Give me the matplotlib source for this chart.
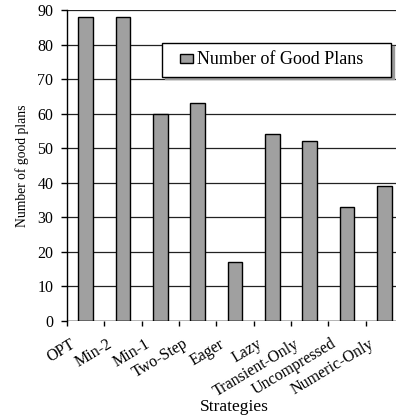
import matplotlib
matplotlib.use("Agg")
import matplotlib.pyplot as plt
from matplotlib.patches import Rectangle
from matplotlib.container import BarContainer
from matplotlib.legend_handler import HandlerPatch, update_from_first_child
import numpy as np

strategies = ["OPT", "Min-2", "Min-1", "Two-Step", "Eager", "Lazy",
              "Transient-Only", "Uncompressed", "Numeric-Only"]
good_plans = [88, 88, 60, 63, 17, 54, 52, 33, 39]
y_ticks = [0, 10, 20, 30, 40, 50, 60, 70, 80, 90]

plt.rcParams["font.family"] = ["Liberation Serif", "DejaVu Serif"]

W, H = 396, 417
fig = plt.figure(figsize=(W / 100, H / 100), dpi=100)
# axes run slightly past the right edge of the canvas
ax = fig.add_axes([67 / W, 1 - 321 / H, 336 / W, 311 / H])

centers = np.arange(len(strategies)) + 0.5
ax.bar(centers, good_plans, width=0.40, color="#a0a0a0", edgecolor="black",
       linewidth=1.0, zorder=3, label="Number of Good Plans")

ax.set_xlim(0, len(strategies))
ax.set_ylim(0, 90)
ax.set_yticks(y_ticks)
ax.tick_params(axis="y", labelsize=11.5, length=4.3, width=1, direction="out", pad=5.5)
ax.set_xticks(np.arange(len(strategies)))
ax.set_xticklabels([])
ax.tick_params(axis="x", length=3.8, width=1, direction="out")

for c, name in zip(centers, strategies):
    ax.text(c - 0.2, -4.3, name, rotation=31, ha="right", va="top",
            fontsize=11.5, rotation_mode="default")

ax.yaxis.grid(True, color="#222222", linewidth=0.9, zorder=0)
ax.set_axisbelow(True)
for side in ["top", "right", "bottom"]:
    ax.spines[side].set_visible(False)
ax.axhline(0, color="black", linewidth=1.0, zorder=4)
ax.spines["left"].set_linewidth(1.0)

ax.set_ylabel("Number of good plans", fontsize=9.8, labelpad=6)
fig.text(234.5 / W, 1 - 407 / H, "Strategies", ha="center", va="center", fontsize=12.5)


def small_box(legend, orig_handle, xdescent, ydescent, width, height, fontsize):
    bw, bh = 9.4, 6.5
    return Rectangle((width - bw - xdescent, (height - bh) / 2 - ydescent), bw, bh)


leg = ax.legend(loc="center", bbox_to_anchor=(0.283, 0.785, 0.681, 0.109),
                mode="expand", fontsize=13, frameon=True, fancybox=False,
                shadow={"color": "#9a9a9a", "alpha": 1.0}, borderaxespad=0,
                handlelength=1.28, handleheight=0.7, handletextpad=0.2,
                borderpad=0.45,
                handler_map={BarContainer: HandlerPatch(
                    patch_func=small_box, update_func=update_from_first_child)})
leg.get_frame().set_edgecolor("black")
leg.get_frame().set_linewidth(1.0)

fig.savefig("out.png", dpi=100)
